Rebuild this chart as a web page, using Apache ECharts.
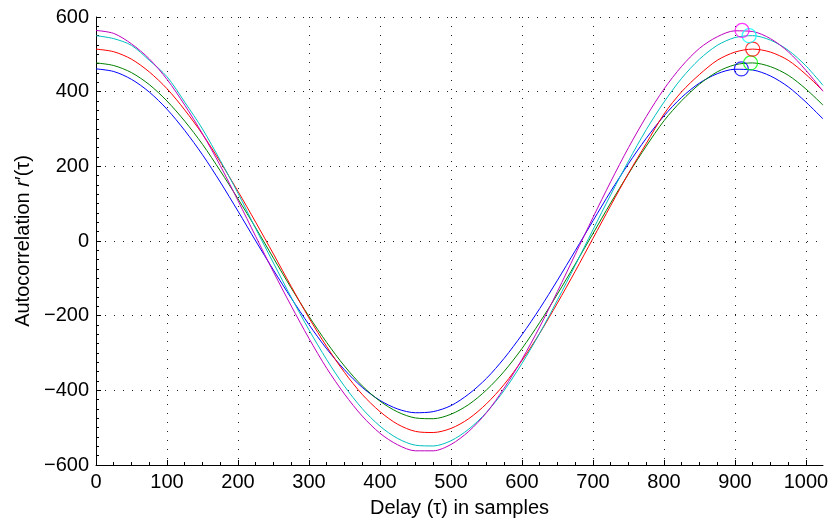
<!DOCTYPE html>
<html>
<head>
<meta charset="utf-8">
<script src="https://cdn.jsdelivr.net/npm/echarts@6/dist/echarts.min.js"></script>
<style>
html,body{margin:0;padding:0;background:#fff;}
#chart{width:830px;height:520px;}
</style>
</head>
<body>
<div id="chart"></div>
<script>
// Delay (samples) at which each curve was read
const delays = [0, 25, 50, 75, 100, 125, 150, 175, 200, 225, 250, 275, 300, 325, 350, 375, 400, 425, 450, 475,
                500, 525, 550, 575, 600, 625, 650, 675, 700, 725, 750, 775, 800, 825, 850, 875, 900, 925, 950, 975, 1000, 1024];
// Autocorrelation values
const blueVals    = [461, 454, 433, 399, 353, 296, 231, 158, 80, 0, -78, -153, -224, -289, -345, -392, -427, -450, -460, -457,
                     -441, -410, -368, -314, -251, -181, -105, -26, 54, 133, 207, 275, 335, 385, 423, 448, 460, 458, 442, 413, 372, 327];
const greenVals   = [477, 470, 451, 419, 375, 321, 259, 188, 113, 35, -46, -126, -202, -272, -335, -388, -429, -458, -474, -476,
                     -464, -438, -399, -349, -288, -218, -142, -62, 20, 102, 180, 254, 322, 376, 420, 453, 472, 477, 467, 444, 407, 364];
const redVals     = [514, 507, 487, 453, 408, 351, 286, 212, 133, 50, -35, -122, -206, -283, -352, -411, -457, -491, -510, -513,
                     -502, -476, -436, -384, -320, -247, -166, -81, 7, 95, 181, 261, 340, 400, 446, 484, 506, 514, 506, 484, 446, 402];
const cyanVals    = [550, 542, 524, 484, 440, 372, 300, 216, 128, 33, -59, -151, -238, -318, -389, -449, -496, -529, -547, -549,
                     -535, -504, -459, -400, -328, -247, -158, -65, 30, 124, 214, 298, 372, 436, 487, 524, 545, 550, 538, 511, 469, 417];
const magentaVals = [564, 556, 528, 488, 433, 364, 287, 202, 108, 12, -83, -174, -261, -341, -410, -469, -515, -546, -562, -562,
                     -545, -510, -460, -394, -317, -230, -135, -36, 63, 159, 250, 333, 407, 468, 516, 547, 563, 561, 542, 507, 457, 401];
// Peak markers (blue, green, red, cyan, magenta)
const peakX = [909, 922, 925, 920, 910];
const peakY = [461, 477, 514, 550, 564];
// Tick labels
const xTicks = [0, 100, 200, 300, 400, 500, 600, 700, 800, 900, 1000];
const yTicks = [-600, -400, -200, 0, 200, 400, 600];

const lineColors = ['#0000ff', '#008000', '#ff0000', '#00bfbf', '#bf00bf'];
const markerColors = ['#0000ff', '#00ff00', '#ff0000', '#00ffff', '#ff00ff'];
const seriesVals = [blueVals, greenVals, redVals, cyanVals, magentaVals];
const FONT = '"Liberation Sans", Arial, Helvetica, sans-serif';

const series = seriesVals.map((vals, i) => ({
  type: 'line',
  data: delays.map((d, k) => [d, vals[k]]),
  smooth: 0.3,
  showSymbol: false,
  lineStyle: {color: lineColors[i], width: 1},
  z: 3
}));
series.push({
  type: 'scatter',
  data: peakX.map((x, i) => ({
    value: [x, peakY[i]],
    itemStyle: {color: 'rgba(0,0,0,0)', borderColor: markerColors[i], borderWidth: 1.2}
  })),
  symbol: 'circle',
  symbolSize: 14,
  z: 4
});

const chart = echarts.init(document.getElementById('chart'), null, {renderer: 'canvas'});
chart.setOption({
  animation: false,
  backgroundColor: '#fff',
  grid: {left: 96, right: 7, top: 17, bottom: 55, containLabel: false, outerBoundsMode: 'none'},
  xAxis: {
    type: 'value', min: 0, max: 1024,
    axisLine: {show: true, onZero: false, lineStyle: {color: '#000', width: 1}},
    axisTick: {show: true, inside: true, length: 5, customValues: xTicks, lineStyle: {color: '#000'}},
    minorTick: {show: true, splitNumber: 8, length: 3, lineStyle: {color: '#000'}},
    axisLabel: {customValues: xTicks, fontSize: 20, color: '#000', margin: 7, fontFamily: FONT,
      formatter: v => String(v)},
    splitLine: {show: true, lineStyle: {type: [1, 8], color: '#222', width: 1}},
    name: 'Delay (\u03c4) in samples', nameLocation: 'middle', nameGap: 33,
    nameTextStyle: {fontSize: 20, color: '#000', fontFamily: FONT}
  },
  yAxis: {
    type: 'value', min: -600, max: 600, interval: 200,
    axisLine: {show: true, onZero: false, lineStyle: {color: '#000', width: 1}},
    axisTick: {show: true, inside: true, length: 5, lineStyle: {color: '#000'}},
    minorTick: {show: true, splitNumber: 8, length: 3, lineStyle: {color: '#000'}},
    axisLabel: {fontSize: 20, color: '#000', margin: 7, fontFamily: FONT,
      customValues: yTicks,
      formatter: v => String(v).replace('-', '\u2212')},
    splitLine: {show: true, lineStyle: {type: [1, 8], color: '#222', width: 1}},
    name: 'Autocorrelation {it|r}\u2032(\u03c4)', nameLocation: 'middle', nameGap: 61,
    nameTextStyle: {fontSize: 20, color: '#000', fontFamily: FONT,
      rich: {it: {fontSize: 20, fontStyle: 'italic', color: '#000', fontFamily: FONT}}}
  },
  series: series
});
</script>
</body>
</html>
